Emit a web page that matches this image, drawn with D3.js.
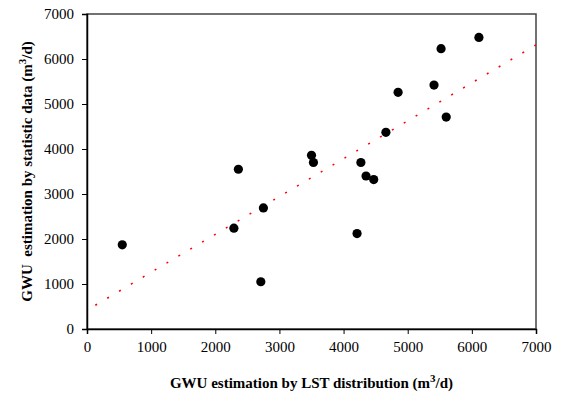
<!DOCTYPE html>
<html>
<head>
<meta charset="utf-8">
<script src="https://cdn.jsdelivr.net/npm/d3@7"></script>
<style>
  body { margin: 0; background: #fff; }
</style>
</head>
<body>
<div id="canvas"></div>
<script>
const width = 562;
const height = 401;
const serif = "Liberation Serif";

// GWU by LST distribution vs by statistic data (m3/d)
const lstValues = [550, 2290, 2360, 2750, 2710, 3500, 3530, 4210, 4270, 4350, 4470, 4660, 4850, 5410, 5520, 5600, 6110];
const statValues = [1870, 2240, 3550, 2690, 1050, 3860, 3700, 2120, 3700, 3400, 3320, 4370, 5260, 5420, 6230, 4710, 6480];

// fitted trend line
const trendSlope = 0.842;
const trendIntercept = 418;
const trendFrom = 130;
const trendTo = 7000;

const xTicks = [0, 1000, 2000, 3000, 4000, 5000, 6000, 7000];
const yTicks = [0, 1000, 2000, 3000, 4000, 5000, 6000, 7000];

const margin = {left: 87, right: 26, top: 14, bottom: 72};

const svg = d3.select("#canvas")
    .append("svg")
    .attr("width", width)
    .attr("height", height)
    .attr("font-family", serif);

const x = d3.scaleLinear().domain([0, 7000]).range([margin.left, width - margin.right]);
const y = d3.scaleLinear().domain([0, 7000]).range([height - margin.bottom, margin.top]);

// frame (top + right)
svg.append("rect")
    .attr("x", x(0))
    .attr("y", y(7000))
    .attr("width", x(7000) - x(0))
    .attr("height", y(0) - y(7000))
    .attr("fill", "none")
    .attr("stroke", "#444")
    .attr("stroke-width", 1.5);

const xAxis = svg.append("g")
    .attr("transform", `translate(0,${y(0)})`)
    .call(d3.axisBottom(x).tickValues(xTicks).tickSize(5).tickPadding(7).tickFormat(d3.format("d")));

const yAxis = svg.append("g")
    .attr("transform", `translate(${x(0)},0)`)
    .call(d3.axisLeft(y).tickValues(yTicks).tickSize(5).tickPadding(8).tickFormat(d3.format("d")));

[xAxis, yAxis].forEach(g => {
    g.attr("font-family", serif).attr("font-size", 15);
    g.select(".domain").attr("stroke", "#000").attr("stroke-width", 1.5);
    g.selectAll(".tick line").attr("stroke", "#000").attr("stroke-width", 1);
    g.selectAll("text").attr("fill", "#000");
});

// trend line, red dotted - spacing chosen so a dot lands on each end
const trend = [trendFrom, trendTo].map(v => [v, trendSlope * v + trendIntercept]);
const x1 = x(trend[0][0]), y1 = y(trend[0][1]), x2 = x(trend[1][0]), y2 = y(trend[1][1]);
const len = Math.hypot(x2 - x1, y2 - y1);
const dash = 2;
const n = Math.round((len - dash) / 13.9);
const gap = (len - dash) / n - dash;
svg.append("line")
    .attr("x1", x1)
    .attr("y1", y1)
    .attr("x2", x2)
    .attr("y2", y2)
    .attr("stroke", "#ff0000")
    .attr("stroke-width", 1.5)
    .attr("stroke-dasharray", `${dash},${gap}`);

// points
svg.selectAll("circle.pt")
    .data(lstValues.map((v, i) => [v, statValues[i]]))
    .join("circle")
    .attr("class", "pt")
    .attr("cx", d => x(d[0]))
    .attr("cy", d => y(d[1]))
    .attr("r", 4.6)
    .attr("fill", "#000");

// axis titles
const xt = svg.append("text")
    .attr("x", (x(0) + x(7000)) / 2)
    .attr("y", 388)
    .attr("text-anchor", "middle")
    .attr("font-family", serif)
    .attr("font-size", 15)
    .attr("font-weight", "bold");
xt.append("tspan").text("GWU estimation by LST distribution (m");
xt.append("tspan").attr("dy", -6).attr("font-size", 11).text("3");
xt.append("tspan").attr("dy", 6).text("/d)");

const yt = svg.append("text")
    .attr("transform", `translate(32,${(y(0) + y(7000)) / 2}) rotate(-90)`)
    .attr("text-anchor", "middle")
    .attr("font-family", serif)
    .attr("font-size", 15)
    .attr("font-weight", "bold")
    .style("white-space", "pre");
yt.append("tspan").text("GWU  estimation by statistic data (m");
yt.append("tspan").attr("dy", -6).attr("font-size", 11).text("3");
yt.append("tspan").attr("dy", 6).text("/d)");
</script>
</body>
</html>
